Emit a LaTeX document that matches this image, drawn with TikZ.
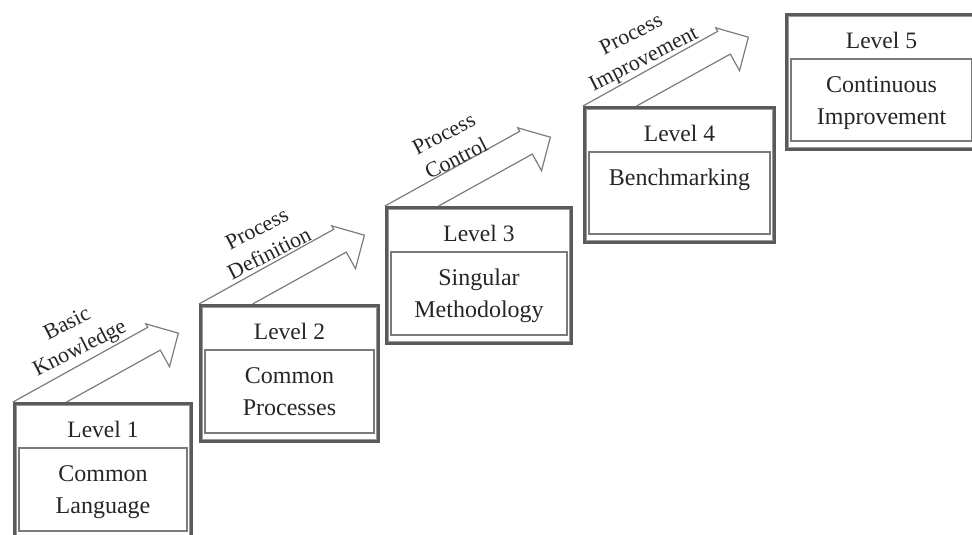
\documentclass[tikz,border=0pt]{standalone}
\usepackage{fontspec}
\setmainfont{Liberation Serif}
\definecolor{frameclr}{HTML}{5A5A5A}
\definecolor{thinclr}{HTML}{9A9A9A}
\definecolor{boxclr}{HTML}{7A7A7A}
\definecolor{arrowclr}{HTML}{7C7C7C}
\definecolor{inkclr}{HTML}{262626}

\tikzset{
  frame/.style={draw=frameclr, line width=4.2pt, fill=white, rectangle, inner sep=0pt},
  thinframe/.style={draw=thinclr, line width=0.8pt},
  innerbox/.style={draw=boxclr, line width=1.3pt, rectangle, inner sep=0pt, outer sep=0pt},
  leveltxt/.style={text=inkclr, font=\fontsize{23.5}{32}\selectfont, inner sep=0pt},
  bodytxt/.style={text=inkclr, font=\fontsize{24}{32}\selectfont, align=center, inner sep=0pt},
  steplabel/.style={text=inkclr, font=\fontsize{22}{27.5}\selectfont, align=center, inner sep=0pt, rotate=27},
  arrowline/.style={draw=arrowclr, line width=1.2pt, line join=miter},
}

% One maturity level: #1 id, #2 left, #3 top, #4 width, #5 height, #6 level, #7 description
\newcommand\levelbox[7]{%
  \node[frame, anchor=north west, minimum width={#4pt-4pt}, minimum height={#5pt-4pt}]
    (b#1) at (#2,#3) {};
  \draw[thinframe] ([shift={(3.6pt,-3.6pt)}]b#1.north west) rectangle ([shift={(-3.6pt,3.6pt)}]b#1.south east);
  \node[innerbox, anchor=north west, minimum width={#4pt-12pt}, minimum height={#5pt-56pt}]
    (i#1) at ({#2+6},{#3-46}) {};
  \node[leveltxt] (h#1) at ({#2+#4/2},{#3-27}) {Level #6};
  \node[bodytxt, anchor=north] (t#1) at ({#2+#4/2},{#3-63}) {#7};
}

% Hollow block arrow rising from the top-left corner of a level box
\newcommand\stairarrow[1]{%
  \draw[arrowline, shift={(b#1.north west)}, rotate=29]
    (0,0) -- (154,0) -- (154,4) -- (178,-20) -- (154,-45) -- (154,-26) -- (46.9,-26);
}

\begin{document}
\begin{tikzpicture}[x=1pt, y=1pt]
  \useasboundingbox (0,0) rectangle (972,535);
  \clip (0,0) rectangle (972,535);
  \fill[white] (0,0) rectangle (972,535);

  \levelbox{1}{13}{133}{180}{139}{1}{Common\\Language}
  \levelbox{2}{199}{231}{181}{139}{2}{Common\\Processes}
  \levelbox{3}{385}{329}{188}{139}{3}{Singular\\Methodology}
  \levelbox{4}{583}{429}{193}{138}{4}{Benchmarking}
  \levelbox{5}{785}{522}{193}{138}{5}{Continuous\\Improvement}

  \stairarrow{1}
  \stairarrow{2}
  \stairarrow{3}
  \stairarrow{4}

  \node[steplabel] (l1) at (74,198) {Basic\\Knowledge};
  \node[steplabel] (l2) at (263,294) {Process\\Definition};
  \node[steplabel] (l3) at (450,389) {Process\\Control};
  \node[steplabel] (l4) at (638,487) {Process\\Improvement};
\end{tikzpicture}
\end{document}
